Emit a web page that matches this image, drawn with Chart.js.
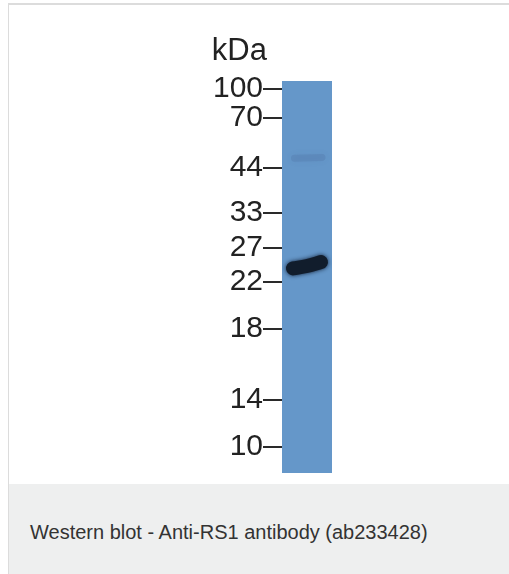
<!DOCTYPE html>
<html>
<head>
<meta charset="utf-8">
<script src="https://cdn.jsdelivr.net/npm/chart.js@4.4.1/dist/chart.umd.min.js"></script>
<style>
  html, body { margin: 0; padding: 0; width: 509px; height: 574px; overflow: hidden; background: #fff; font-family: "Liberation Sans", Arial, sans-serif; }
  #frame { position: absolute; left: 8px; top: 3px; right: 0; height: 480px; border-top: 2px solid #dcdcdc; border-left: 1px solid #dcdcdc; border-bottom: 1px solid #dcdcdc; background: #fff; }
  #caption { position: absolute; left: 8px; top: 484px; right: 0; bottom: 0; border-left: 1px solid #dcdcdc; background: #eeefef; }
  #caption span { position: absolute; left: 21px; top: 37px; font-size: 20px; color: #333; letter-spacing: 0; }
  #blot { position: absolute; left: 0; top: 0; }
</style>
</head>
<body>
<div id="frame"></div>
<div id="caption"><span>Western blot - Anti-RS1 antibody (ab233428)</span></div>
<canvas id="blot" width="509" height="483"></canvas>
<script>
// marcador de peso molecular (kDa) y su posicion relativa de migracion en el carril (0 = arriba, 1 = abajo)
const markerKda = [100, 70, 44, 33, 27, 22, 18, 14, 10];
const markerPos = [0.020, 0.094, 0.222, 0.337, 0.426, 0.513, 0.633, 0.814, 0.934];

// carril (x relativo dentro del carril, 0..1)
const laneCenter = [{ x: 0.5, y: [0, 1] }];
// banda principal (~24 kDa), un poco inclinada
const mainBand = [
    { x: 0.22, y: 0.478 },
    { x: 0.50, y: 0.472 },
    { x: 0.78, y: 0.462 }
];
// banda tenue (~46 kDa)
const faintBand = [
    { x: 0.25, y: 0.197 },
    { x: 0.80, y: 0.195 }
];

const bandGlow = {
    id: 'bandGlow',
    beforeDatasetDraw(chart, args) {
        const ctx = chart.ctx;
        ctx.save();
        if (args.index === 1) {
            ctx.shadowColor = 'rgba(10,20,40,0.9)';
            ctx.shadowBlur = 4;
        }
        if (args.index === 2) {
            ctx.shadowColor = 'rgba(60,90,140,0.4)';
            ctx.shadowBlur = 6;
        }
    },
    afterDatasetDraw(chart) {
        chart.ctx.restore();
    }
};

const kdaLabel = {
    id: 'kdaLabel',
    afterDraw(chart) {
        const y = chart.scales.y;
        const ctx = chart.ctx;
        ctx.save();
        ctx.font = '31px "Liberation Sans", Arial, sans-serif';
        ctx.fillStyle = '#222';
        ctx.textAlign = 'right';
        ctx.textBaseline = 'alphabetic';
        ctx.fillText('kDa', y.right - 15, chart.chartArea.top - 21);
        ctx.restore();
    }
};

const ctx = document.getElementById('blot').getContext('2d');
new Chart(ctx, {
    type: 'bar',
    data: {
        datasets: [
            {
                type: 'bar',
                data: laneCenter,
                backgroundColor: '#6597c9',
                barThickness: 50,
                order: 3
            },
            {
                type: 'line',
                data: mainBand,
                borderColor: '#111d2c',
                borderWidth: 14,
                borderCapStyle: 'round',
                tension: 0.4,
                pointRadius: 0,
                fill: false,
                order: 1
            },
            {
                type: 'line',
                data: faintBand,
                borderColor: 'rgba(70,100,150,0.2)',
                borderWidth: 7,
                borderCapStyle: 'round',
                pointRadius: 0,
                fill: false,
                order: 2
            }
        ]
    },
    options: {
        responsive: false,
        animation: false,
        parsing: { xAxisKey: 'x', yAxisKey: 'y' },
        layout: { padding: { left: 202, right: 177, top: 81, bottom: 10 } },
        plugins: {
            legend: { display: false },
            tooltip: { enabled: false }
        },
        scales: {
            x: { type: 'linear', display: false, min: 0, max: 1, offset: false },
            y: {
                reverse: true,
                min: 0,
                max: 1,
                afterFit(scale) {
                    scale.width = 80;
                    scale.paddingTop = 0;
                    scale.paddingBottom = 0;
                },
                afterBuildTicks(scale) {
                    scale.ticks = markerPos.map(v => ({ value: v }));
                },
                border: { display: false },
                grid: {
                    drawOnChartArea: false,
                    drawTicks: true,
                    tickLength: 19,
                    color: '#2a2a2a',
                    lineWidth: 2
                },
                ticks: {
                    autoSkip: false,
                    padding: 0,
                    color: '#222',
                    font: { size: 30, family: '"Liberation Sans", Arial, sans-serif' },
                    callback: (value, index) => markerKda[index]
                }
            }
        }
    },
    plugins: [bandGlow, kdaLabel]
});
</script>
</body>
</html>
